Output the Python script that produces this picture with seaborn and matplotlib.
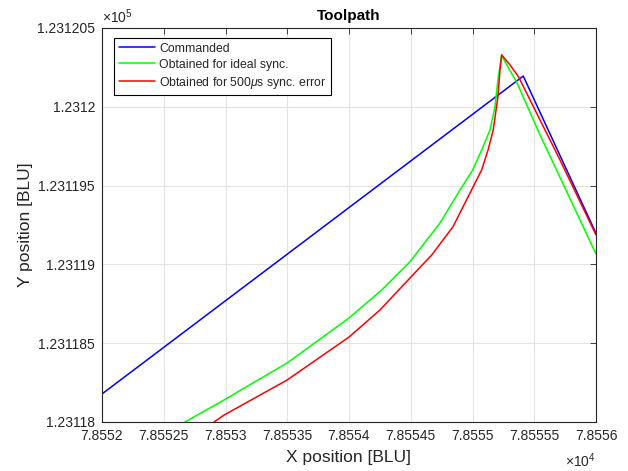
import numpy as np
import pandas as pd
import matplotlib
matplotlib.use("Agg")
import matplotlib.pyplot as plt
import seaborn as sns

# ---- data ----
cmd_x = [78552.0, 78555.411, 78556.0]
cmd_y = [123118.178, 123120.195, 123119.197]

ideal_x = [78552.672, 78552.988, 78553.498, 78554.000, 78554.265, 78554.494, 78554.737,
           78554.899, 78555.002, 78555.074, 78555.142, 78555.182, 78555.206, 78555.236,
           78555.247, 78555.362, 78555.547, 78556.000]
ideal_y = [123118.000, 123118.140, 123118.374, 123118.660, 123118.838, 123119.017, 123119.263,
           123119.472, 123119.599, 123119.726, 123119.853, 123120.001, 123120.170, 123120.329,
           123120.308, 123120.149, 123119.821, 123119.066]

err_x = [78552.907, 78552.988, 78553.498, 78554.000, 78554.251, 78554.494, 78554.670,
         78554.842, 78554.980, 78555.074, 78555.126, 78555.168, 78555.206, 78555.223,
         78555.236, 78555.304, 78555.372, 78555.709, 78556.000]
err_y = [123118.000, 123118.044, 123118.266, 123118.539, 123118.711, 123118.914, 123119.060,
         123119.239, 123119.453, 123119.599, 123119.726, 123119.853, 123120.064, 123120.234,
         123120.329, 123120.265, 123120.191, 123119.662, 123119.187]

labels = ["Commanded", "Obtained for ideal sync.", r"Obtained for 500$\mu$s sync. error"]
x_ticks = [78552 + 0.5 * i for i in range(9)]
y_ticks = [123118 + 0.5 * i for i in range(6)]

sns.set_style("white")
plt.rcParams['font.family'] = ['Liberation Sans', 'DejaVu Sans']
plt.rcParams['mathtext.fontset'] = 'custom'
plt.rcParams['mathtext.rm'] = 'Liberation Sans'
plt.rcParams['mathtext.it'] = 'Liberation Sans:italic'

fig = plt.figure(figsize=(6.28, 4.71), dpi=100)
ax = fig.add_axes([102 / 628, 49 / 471, 494 / 628, 394 / 471])

dfs = []
for xs, ys, lab in [(cmd_x, cmd_y, labels[0]), (ideal_x, ideal_y, labels[1]), (err_x, err_y, labels[2])]:
    dfs.append(pd.DataFrame({"x": xs, "y": ys, "series": lab}))
df = pd.concat(dfs, ignore_index=True)

sns.lineplot(data=df, x="x", y="y", hue="series", sort=False, estimator=None, units="series",
             palette={labels[0]: "#0000ff", labels[1]: "#00ff00", labels[2]: "#ff0000"},
             linewidth=1.1, ax=ax, legend=True)

ax.set_xlim(78552, 78556)
ax.set_ylim(123118, 123120.5)
ax.set_xticks(x_ticks)
ax.set_yticks(y_ticks)
ax.set_xticklabels([f"{v/1e4:.6g}" for v in x_ticks])
ax.set_yticklabels([f"{v/1e5:.7g}" for v in y_ticks])
ax.tick_params(direction='in', top=True, right=True, length=4, width=0.6,
               colors='#262626', labelsize=10, pad=5)
ax.grid(True, color='#e3e3e3', linewidth=0.8)
for s in ax.spines.values():
    s.set_color('#262626')
    s.set_linewidth(0.8)

ax.set_xlabel("X position [BLU]", fontsize=12.5, color='#262626', labelpad=5)
ax.set_ylabel("Y position [BLU]", fontsize=12.5, color='#262626', labelpad=3)
ax.set_title("Toolpath", fontsize=11, fontweight='bold', color='black', pad=6)

ax.text(1.0, -0.075, r"$\times10^{4}$", transform=ax.transAxes, ha='right', va='top',
        fontsize=10, color='#262626')
ax.text(0.0, 1.005, r"$\times10^{5}$", transform=ax.transAxes, ha='left', va='bottom',
        fontsize=10, color='#262626')

leg = ax.legend(loc='upper left', bbox_to_anchor=(0.024, 0.975), fontsize=8.8, frameon=True,
                fancybox=False, edgecolor='black', framealpha=1, handlelength=3.0,
                borderpad=0.4, labelspacing=0.32, handletextpad=0.3, borderaxespad=0)
leg.get_frame().set_linewidth(0.8)

fig.savefig("out.png", dpi=100)
